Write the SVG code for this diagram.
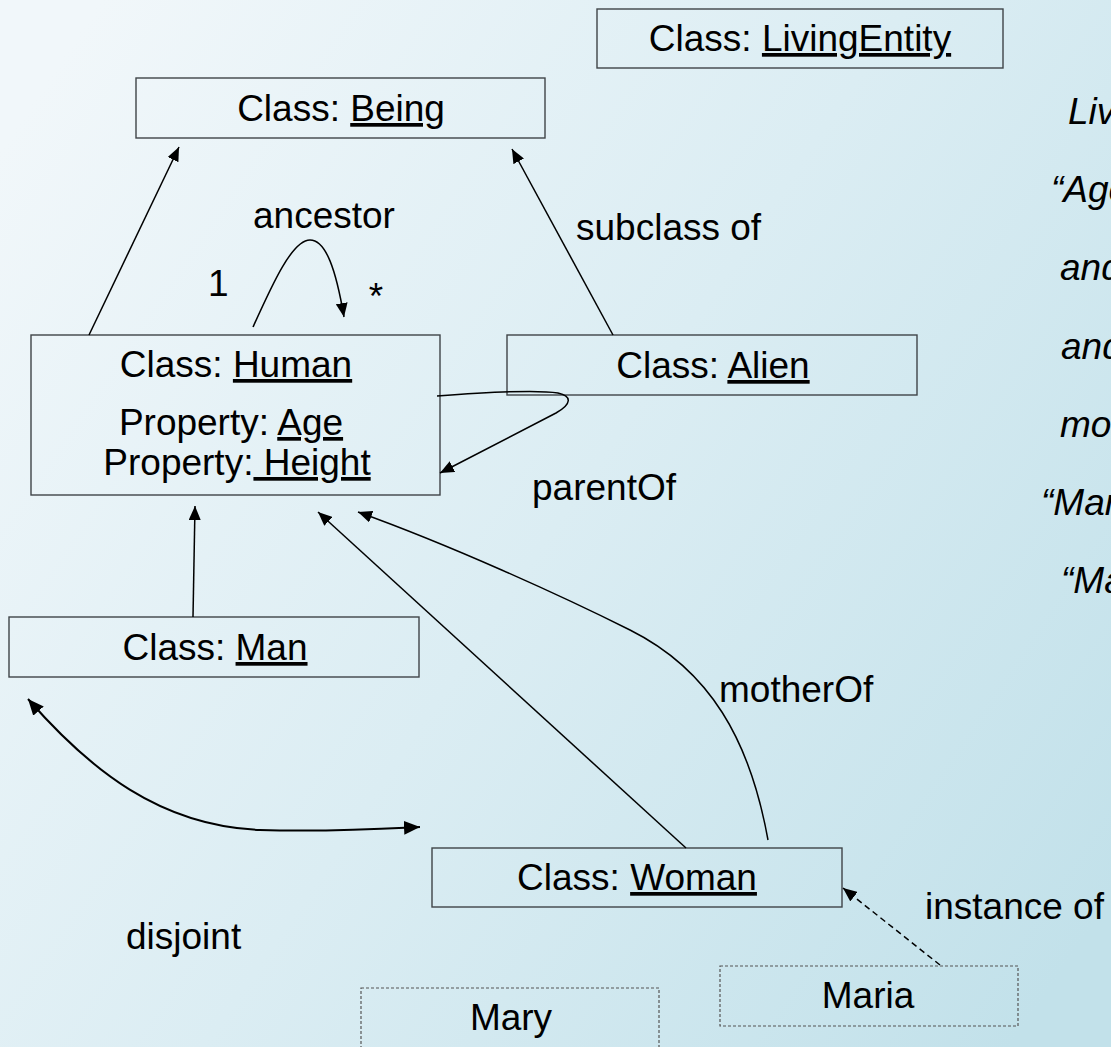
<svg xmlns="http://www.w3.org/2000/svg" width="1111" height="1047" viewBox="0 0 1111 1047">
  <defs>
    <linearGradient id="bg" gradientUnits="userSpaceOnUse" x1="0" y1="150" x2="1111" y2="900">
      <stop offset="0" stop-color="#f1f7fa"/>
      <stop offset="0.5" stop-color="#dbedf3"/>
      <stop offset="1" stop-color="#c2e1ea"/>
    </linearGradient>
    <marker id="arrow" viewBox="0 0 14 12" refX="14" refY="6" markerWidth="14" markerHeight="12" markerUnits="userSpaceOnUse" orient="auto-start-reverse">
      <path d="M0,0 L14,6 L0,12 z" fill="#000"/>
    </marker>
    <marker id="arrow-lg" viewBox="0 0 16 14" refX="16" refY="7" markerWidth="16" markerHeight="14" markerUnits="userSpaceOnUse" orient="auto-start-reverse">
      <path d="M0,0 L16,7 L0,14 z" fill="#000"/>
    </marker>
  </defs>
  <style>
    text { font-family: "Liberation Sans", Arial, sans-serif; font-size: 37px; fill: #000; }
    .box { fill: none; stroke: #3f4448; stroke-width: 1.4; }
    .inst { fill: none; stroke: #555; stroke-width: 1.2; stroke-dasharray: 3 2; }
    .edge { fill: none; stroke: #000; stroke-width: 1.5; marker-end: url(#arrow); }
    .dashed { stroke-dasharray: 6 4; }
    .note { font-style: italic; }
    .u { text-decoration: underline; }
  </style>

  <rect width="1111" height="1047" fill="url(#bg)"/>

  <!-- class boxes -->
  <g id="living-entity">
    <rect class="box" x="597" y="9" width="406" height="59"/>
    <text x="800" y="51" text-anchor="middle">Class: <tspan class="u">LivingEntity</tspan></text>
  </g>
  <g id="being">
    <rect class="box" x="136" y="78" width="409" height="60"/>
    <text x="341" y="121" text-anchor="middle">Class: <tspan class="u">Being</tspan></text>
  </g>
  <g id="human">
    <rect class="box" x="31" y="335" width="409" height="160"/>
    <text x="236" y="377" text-anchor="middle">Class: <tspan class="u">Human</tspan></text>
    <text x="231" y="435" text-anchor="middle">Property: <tspan class="u">Age</tspan></text>
    <text x="237" y="475" text-anchor="middle">Property:<tspan class="u"> Height</tspan></text>
  </g>
  <g id="alien">
    <rect class="box" x="507" y="335" width="410" height="60"/>
    <text x="713" y="378" text-anchor="middle">Class: <tspan class="u">Alien</tspan></text>
  </g>
  <g id="man">
    <rect class="box" x="9" y="617" width="410" height="60"/>
    <text x="215" y="660" text-anchor="middle">Class: <tspan class="u">Man</tspan></text>
  </g>
  <g id="woman">
    <rect class="box" x="432" y="848" width="410" height="59"/>
    <text x="637" y="890" text-anchor="middle">Class: <tspan class="u">Woman</tspan></text>
  </g>

  <!-- individuals -->
  <g id="maria">
    <rect class="inst" x="720" y="966" width="298" height="60"/>
    <text x="868" y="1008" text-anchor="middle">Maria</text>
  </g>
  <g id="mary">
    <rect class="inst" x="361" y="988" width="298" height="70"/>
    <text x="511" y="1030" text-anchor="middle">Mary</text>
  </g>

  <!-- connectors -->
  <g id="connectors">
    <path class="edge" d="M89,335 L179,147"/>
    <path class="edge" d="M613,335 L512,149"/>
    <path class="edge" d="M253,327 C272,285 292,240 310,240 C326,240 336,270 344,317"/>
    <path class="edge" d="M437,396 C490,392 540,390 558,393 C572,396 572,404 556,413 L440,473"/>
    <path class="edge" d="M193,617 L195,506"/>
    <path class="edge" d="M686,848 L318,512"/>
    <path class="edge" d="M768,840 C750,740 710,670 630,630 C560,595 450,545 358,512"/>
    <path class="edge" d="M28,699 C90,770 160,826 260,830 C330,832 380,829 420,827" style="stroke-width:2;marker-start:url(#arrow-lg);marker-end:url(#arrow-lg)"/>
    <path class="edge dashed" d="M940,965 L843,888"/>
  </g>

  <!-- connector labels -->
  <g id="labels">
    <text x="253" y="228">ancestor</text>
    <text x="208" y="296">1</text>
    <text x="376" y="309" text-anchor="middle">*</text>
    <text x="576" y="240">subclass of</text>
    <text x="532" y="500">parentOf</text>
    <text x="719" y="702">motherOf</text>
    <text x="126" y="949">disjoint</text>
    <text x="925" y="919">instance of</text>
  </g>

  <!-- italic notes running off the right edge -->
  <g id="notes" class="note">
    <text class="note" x="1068" y="124">Liv</text>
    <text class="note" x="1051" y="202">“Age</text>
    <text class="note" x="1060" y="280">and</text>
    <text class="note" x="1061" y="359">and</text>
    <text class="note" x="1060" y="437">mo</text>
    <text class="note" x="1041" y="515">“Mar</text>
    <text class="note" x="1061" y="593">“Ma</text>
  </g>
</svg>
